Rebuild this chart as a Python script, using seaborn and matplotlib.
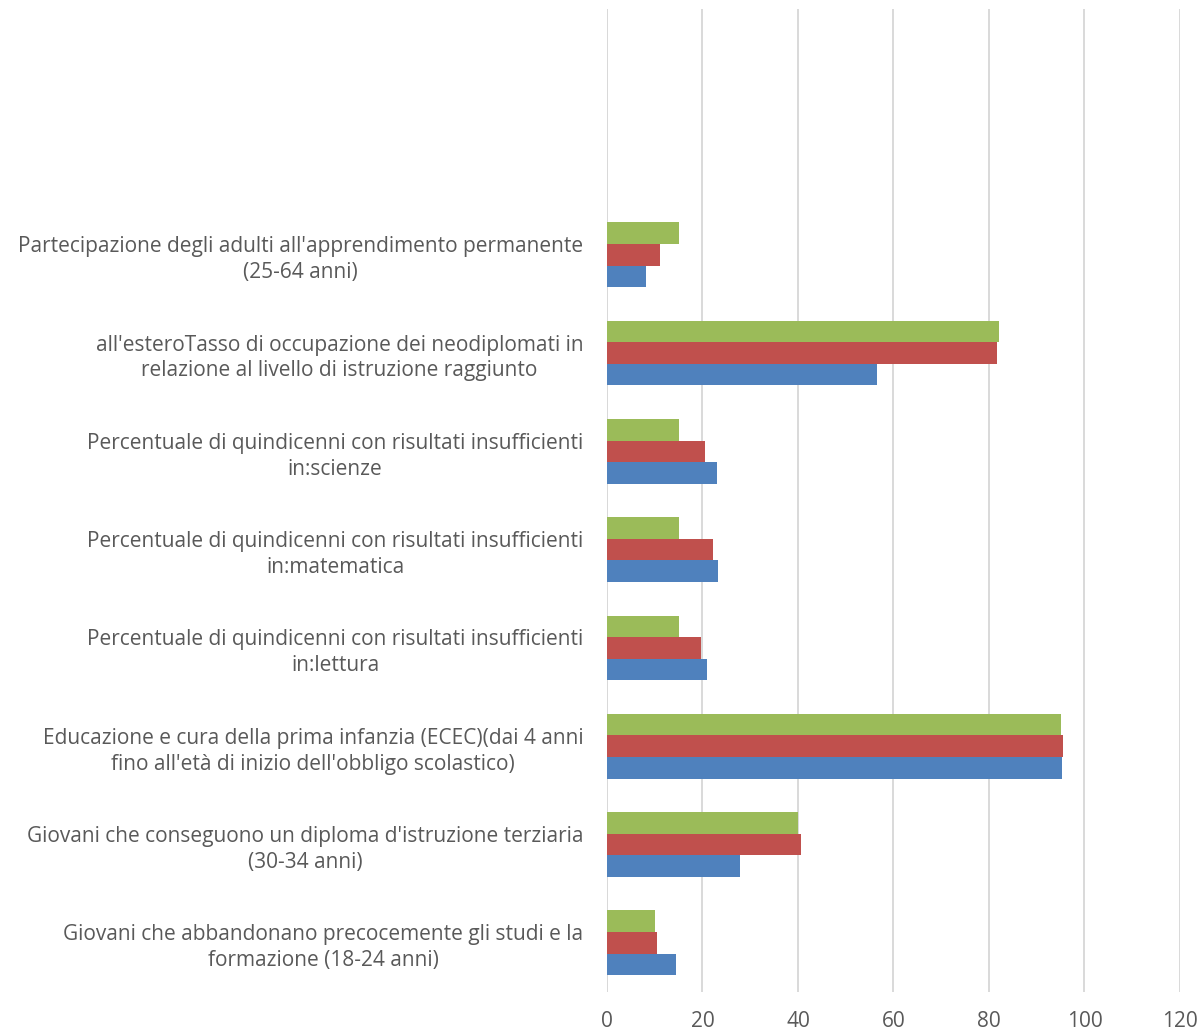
import matplotlib
matplotlib.use("Agg")
import matplotlib.pyplot as plt
import seaborn as sns
import pandas as pd

categories = [
    "",
    " ",
    "Partecipazione degli adulti all'apprendimento permanente\n(25-64 anni)",
    "all'esteroTasso di occupazione dei neodiplomati in\nrelazione al livello di istruzione raggiunto",
    "Percentuale di quindicenni con risultati insufficienti\nin:scienze",
    "Percentuale di quindicenni con risultati insufficienti\nin:matematica",
    "Percentuale di quindicenni con risultati insufficienti\nin:lettura",
    "Educazione e cura della prima infanzia (ECEC)(dai 4 anni\nfino all'età di inizio dell'obbligo scolastico)",
    "Giovani che conseguono un diploma d'istruzione terziaria\n(30-34 anni)",
    "Giovani che abbandonano precocemente gli studi e la\nformazione (18-24 anni)",
]
data_categories = categories[2:]

series_names = ["Obiettivo UE 2020", "Media UE", "Italia"]
green_values = [15.0, 82.0, 15.0, 15.0, 15.0, 95.0, 40.0, 10.0]
red_values = [11.0, 81.7, 20.6, 22.2, 19.7, 95.5, 40.7, 10.5]
blue_values = [8.1, 56.5, 23.1, 23.3, 21.0, 95.2, 27.8, 14.5]
colors = ["#9BBB59", "#C0504D", "#4F81BD"]
xticks = [0, 20, 40, 60, 80, 100, 120]

rows = []
for name, vals in zip(series_names, [green_values, red_values, blue_values]):
    for c, v in zip(data_categories, vals):
        rows.append({"categoria": c, "serie": name, "valore": v})
df = pd.DataFrame(rows)

sns.set_style("white")
plt.rcParams["font.family"] = ["Open Sans", "DejaVu Sans"]

fig = plt.figure(figsize=(12.01, 10.34), dpi=100)
ax = fig.add_axes([0.5054, 0.0406, 0.4771, 0.9507])

sns.barplot(data=df, y="categoria", x="valore", hue="serie", order=categories,
            hue_order=series_names, palette=colors, orient="h", width=0.66,
            ax=ax, legend=False, saturation=1, edgecolor="none")

ax.set_xlim(0, 120)
ax.set_xticks(xticks)
ax.set_ylim(len(categories) - 0.5, -0.5)
ax.xaxis.grid(True, color="#D9D9D9", linewidth=1.4)
ax.yaxis.grid(False)
ax.set_axisbelow(True)
for s in ax.spines.values():
    s.set_visible(False)
ax.axvline(0, color="#D9D9D9", linewidth=1.4, zorder=0.5)
ax.set_xlabel("")
ax.set_ylabel("")
ax.tick_params(axis="x", length=0, pad=14, labelsize=15, labelcolor="#595959")
ax.tick_params(axis="y", length=0, pad=17, labelsize=15, labelcolor="#595959")
for lab in ax.get_yticklabels():
    lab.set_multialignment("center")
    lab.set_linespacing(1.3)

fig.savefig("out.png", dpi=100)
